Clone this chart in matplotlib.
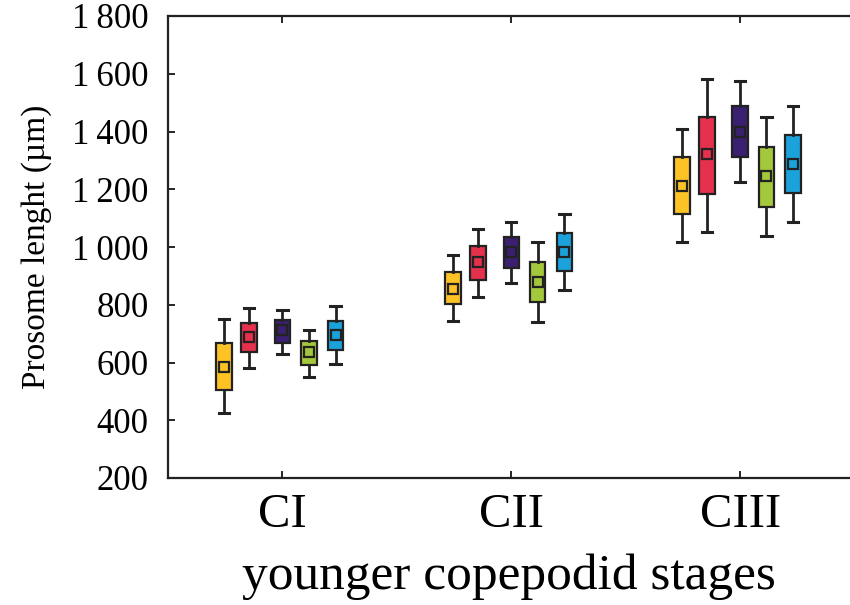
import matplotlib
matplotlib.use('Agg')
from matplotlib import pyplot as plt
from matplotlib.ticker import FuncFormatter

plt.rcParams['font.family'] = ['Liberation Serif', 'DejaVu Serif']

# Copepodid stages and the five series drawn within each stage
stages = ['CI', 'CII', 'CIII']
colors = ['#FDC326', '#E5304E', '#3B2072', '#A3C83B', '#1CA2DB']

# Summary values per stage (rows) and series (columns), in µm
whisk_low = [[425, 582, 629, 549, 594],
             [744, 828, 876, 740, 851],
             [1016, 1052, 1225, 1037, 1087]]
box_low = [[506, 635, 669, 590, 643],
           [801, 886, 926, 810, 917],
           [1114, 1185, 1312, 1140, 1187]]
means = [[584, 688, 711, 635, 696],
         [856, 947, 982, 878, 982],
         [1211, 1321, 1398, 1245, 1286]]
box_high = [[669, 738, 746, 673, 742],
            [915, 1003, 1034, 948, 1050],
            [1310, 1451, 1489, 1347, 1389]]
whisk_high = [[749, 790, 783, 714, 794],
              [972, 1062, 1085, 1016, 1115],
              [1407, 1583, 1575, 1450, 1490]]

offsets = [-0.255, -0.145, 0.0, 0.115, 0.232]

fig = plt.figure(figsize=(8.5, 6.05), dpi=100)
ax = fig.add_axes([168 / 850, 1 - 478 / 605, 1 - 168 / 850, (478 - 16) / 605])

for i in range(len(stages)):
    for j in range(len(colors)):
        stats = [{
            'whislo': whisk_low[i][j], 'q1': box_low[i][j],
            'med': means[i][j], 'mean': means[i][j],
            'q3': box_high[i][j], 'whishi': whisk_high[i][j],
            'fliers': [],
        }]
        ax.bxp(stats, positions=[i + 1 + offsets[j]], widths=0.068,
               patch_artist=True, showmeans=True, showfliers=False,
               boxprops=dict(facecolor=colors[j], edgecolor='#222222', linewidth=1.6),
               whiskerprops=dict(color='#222222', linewidth=2.0),
               capprops=dict(color='#222222', linewidth=2.2),
               capwidths=0.045,
               medianprops=dict(linewidth=0),
               meanprops=dict(marker='s', markersize=7.5, markerfacecolor='none',
                              markeredgecolor='#222222', markeredgewidth=1.6),
               manage_ticks=False)

ax.set_xlim(0.5, 3.48)
ax.set_ylim(200, 1800)
ax.set_xticks([1, 2, 3])
ax.set_xticklabels(stages, fontsize=35)
ax.set_yticks(range(200, 1801, 200))
ax.yaxis.set_major_formatter(FuncFormatter(
    lambda v, p: '{:,}'.format(int(v)).replace(',', '\u2009')))
ax.tick_params(axis='y', labelsize=25, direction='in', length=5, width=1.2, pad=14)
ax.tick_params(axis='x', direction='in', length=5, width=1.2, pad=11, top=True)
ax.spines['right'].set_visible(False)
for s in ['left', 'top', 'bottom']:
    ax.spines[s].set_linewidth(1.6)
    ax.spines[s].set_color('#222222')

ax.set_ylabel('Prosome lenght (µm)', fontsize=24, labelpad=14)
ax.set_xlabel('younger copepodid stages', fontsize=37, labelpad=12)

fig.savefig('out.png', dpi=100)
